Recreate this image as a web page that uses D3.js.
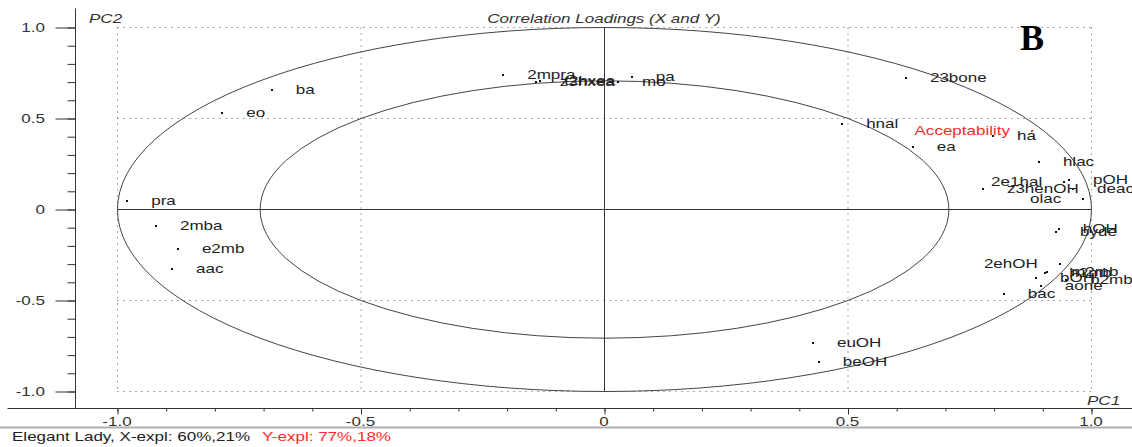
<!DOCTYPE html>
<html>
<head>
<meta charset="utf-8">
<script src="https://cdn.jsdelivr.net/npm/d3@7/dist/d3.min.js"></script>
<style>
  html, body { margin: 0; padding: 0; background: #fff; }
  svg { display: block; font-family: "Liberation Sans", Arial, sans-serif; }
</style>
</head>
<body>
<svg id="chart" width="1132" height="447"></svg>
<script>
// Correlation loadings, PC1 vs PC2 (X variables in black, Y variable in red)
const xVars = ["ba","eo","pra","2mba","e2mb","aac","2mpra","z3hxea","t2hxea","mo","pa",
  "23bone","hnal","ha","ea","hlac","2e1hal","pOH","deac","z3henOH","olac","hOH","byde",
  "2ehOH","h2mb","m2mb","bOH","b2mbr","aone","bac","euOH","beOH"];
const xPC1 = [-0.682,-0.784,-0.979,-0.920,-0.875,-0.887,-0.207,-0.140,-0.131,0.029,0.057,
  0.620,0.489,0.799,0.634,0.893,0.945,0.955,0.963,0.778,0.984,0.934,0.928,
  0.936,0.906,0.910,0.887,0.949,0.897,0.821,0.429,0.441];
const xPC2 = [0.654,0.527,0.044,-0.093,-0.220,-0.330,0.736,0.698,0.703,0.698,0.725,
  0.720,0.467,0.401,0.341,0.258,0.148,0.159,0.110,0.110,0.055,-0.110,-0.126,
  -0.302,-0.352,-0.346,-0.379,-0.390,-0.423,-0.467,-0.736,-0.841];

const yVars = ["Acceptability"];
const yPC1 = [0.879];
const yPC2 = [0.429];

const majorTicks = [-1, -0.5, 0, 0.5, 1];
const tickLabels = ["-1.0", "-0.5", "0", "0.5", "1.0"];
const minorTicks = d3.range(-10, 11).map(v => v / 10);
const gridValues = [-1, -0.5, 0.5, 1];

const title = "Correlation Loadings (X and Y)";
const footerX = "Elegant Lady, X-expl: 60%,21%";
const footerY = "Y-expl: 77%,18%";

// labels that sit to the left of their point
const leftLabels = new Set(["Acceptability", "olac", "2ehOH", "2e1hal"]);

const SX = 1.42;            // wide screen-font look
const INK = "#222";
const RED = "#ff2a2a";

const svg = d3.select("#chart");
const x = d3.scaleLinear().domain([-1, 1]).range([117, 1091]);
const y = d3.scaleLinear().domain([-1, 1]).range([391, 27]);

function stretchedText(g, px, py, txt, anchor, opts = {}) {
  return g.append("text")
    .attr("transform", `translate(${px},${py}) scale(${SX},1)`)
    .attr("text-anchor", anchor)
    .attr("font-size", opts.size || 12)
    .attr("font-style", opts.italic ? "italic" : "normal")
    .attr("fill", opts.fill || INK)
    .text(txt);
}

const lines = svg.append("g").attr("transform", "translate(0.5,0.5)");

// dotted grid
gridValues.forEach(v => {
  lines.append("line")
    .attr("x1", x(v)).attr("x2", x(v)).attr("y1", y(1)).attr("y2", y(-1))
    .attr("stroke", "#555").attr("stroke-dasharray", "1,5");
  lines.append("line")
    .attr("x1", x(-1)).attr("x2", x(1)).attr("y1", y(v)).attr("y2", y(v))
    .attr("stroke", "#555").attr("stroke-dasharray", "1,5");
});

// zero lines
lines.append("line").attr("x1", x(0)).attr("x2", x(0)).attr("y1", y(1)).attr("y2", y(-1))
  .attr("stroke", "#333");
lines.append("line").attr("x1", x(-1)).attr("x2", x(1)).attr("y1", y(0)).attr("y2", y(0))
  .attr("stroke", "#333");

// 100% and 50% explained-variance ellipses
[1, Math.sqrt(0.5)].forEach(r => {
  lines.append("ellipse")
    .attr("cx", x(0)).attr("cy", y(0))
    .attr("rx", x(r) - x(0)).attr("ry", y(0) - y(r))
    .attr("fill", "none").attr("stroke", "#444").attr("stroke-width", 1);
});

// axes
const xAxisY = 408, yAxisX = 75;
const xAxisG = lines.append("g").attr("transform", `translate(0,${xAxisY})`);
xAxisG.call(d3.axisBottom(x).tickValues(minorTicks).tickSize(3).tickFormat(""));
xAxisG.call(g => g.select(".domain").remove());
const xMajor = lines.append("g").attr("transform", `translate(0,${xAxisY})`);
xMajor.call(d3.axisBottom(x).tickValues(majorTicks).tickSize(6).tickFormat(""));
xMajor.call(g => g.select(".domain").remove());
lines.selectAll(".tick line").attr("stroke", "#333");
lines.append("line").attr("x1", 7).attr("x2", 1132).attr("y1", xAxisY).attr("y2", xAxisY)
  .attr("stroke", "#333");

const yAxisG = lines.append("g").attr("transform", `translate(${yAxisX},0)`);
yAxisG.call(d3.axisLeft(y).tickValues(minorTicks).tickSize(8).tickFormat(""));
yAxisG.call(g => g.select(".domain").remove());
const yMajor = lines.append("g").attr("transform", `translate(${yAxisX},0)`);
yMajor.call(d3.axisLeft(y).tickValues(majorTicks).tickSize(20).tickFormat(""));
yMajor.call(g => g.select(".domain").remove());
lines.selectAll(".tick line").attr("stroke", "#333");
lines.append("line").attr("x1", yAxisX).attr("x2", yAxisX).attr("y1", 8).attr("y2", xAxisY)
  .attr("stroke", "#333");

// separator under the x tick labels
svg.append("line").attr("x1", 0).attr("x2", 1132).attr("y1", 427.5).attr("y2", 427.5)
  .attr("stroke", "#b0b0b0").attr("stroke-width", 2);

// tick labels
const textG = svg.append("g");
majorTicks.forEach((v, i) => {
  stretchedText(textG, x(v), 426, tickLabels[i], "middle", { fill: "#333" });
  stretchedText(textG, 45, y(v) + 4.5, tickLabels[i], "end", { fill: "#333" });
});

// titles
stretchedText(textG, x(0), 23, title, "middle", { italic: true, fill: "#333" });
stretchedText(textG, 89, 23, "PC2", "start", { italic: true, fill: "#333" });
stretchedText(textG, 1087, 405, "PC1", "start", { italic: true, fill: "#333" });
textG.append("text")
  .attr("x", 1020).attr("y", 50)
  .attr("font-family", "'Liberation Serif', 'Times New Roman', serif")
  .attr("font-weight", "bold").attr("font-size", 36)
  .attr("fill", "#000").text("B");

// footer
stretchedText(textG, 12, 441, footerX, "start", { fill: "#222" });
stretchedText(textG, 262, 441, footerY, "start", { fill: RED });

// loadings
function drawPoints(names, px, py, color) {
  const pts = names.map((n, i) => ({ name: n, px: px[i], py: py[i] }));
  const g = svg.append("g");
  g.selectAll("rect").data(pts).join("rect")
    .attr("x", d => Math.round(x(d.px)) - 1)
    .attr("y", d => Math.round(y(d.py)) - 1)
    .attr("width", 2).attr("height", 2)
    .attr("fill", color === RED ? RED : "#111");
  pts.forEach(d => {
    const left = leftLabels.has(d.name);
    stretchedText(g, x(d.px) + (left ? -22 : 24), y(d.py) + 4, d.name,
      left ? "end" : "start", { fill: color });
  });
}
drawPoints(xVars, xPC1, xPC2, INK);
drawPoints(yVars, yPC1, yPC2, RED);
</script>
</body>
</html>
